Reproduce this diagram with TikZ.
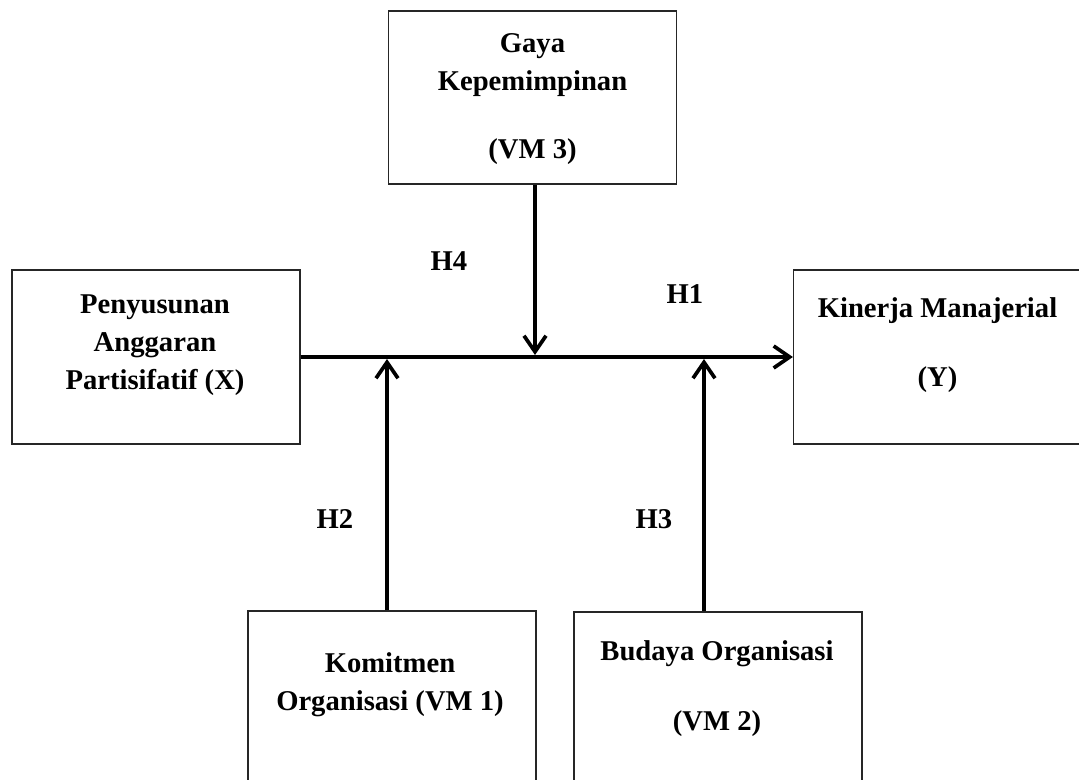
\documentclass[tikz,border=0pt]{standalone}
\usepackage{fontspec}
\setmainfont{Liberation Serif}
\usetikzlibrary{arrows.meta}

\tikzset{
	box/.style={shape=rectangle, draw=black!85, line width=0.7pt, minimum width=5.76cm, minimum height=3.48cm, inner sep=0pt},
	txt/.style={align=center, font=\fontsize{16.3}{21.6}\selectfont\bfseries},
	arr/.style={-{Straight Barb[length=0.32cm,width=0.44cm]}, line width=2.1pt},
}

\begin{document}
\begin{tikzpicture}[x=0.02cm, y=-0.02cm]
	\useasboundingbox (0,0) rectangle (1079,780);
	
	\node[box, minimum height=3.46cm] (gaya) at (532.5, 97.5) {};
	\node[box] (x)   at (156, 357)   {};
	\node[box] (y)   at (937.5, 357) {};
	\node[box, minimum height=3.5cm] (kom) at (392, 698.5) {};
	\node[box, minimum height=3.5cm] (bud) at (718, 699.5) {};
	
	\node[txt] (gayat) at (532.5, 99) {Gaya\\Kepemimpinan\\[0.6cm](VM 3)};
	\node[txt] (xt)    at (155, 345)  {Penyusunan\\Anggaran\\Partisifatif (X)};
	\node[txt] (yt)    at (937.5, 345) {Kinerja Manajerial\\[0.62cm](Y)};
	\node[txt] (komt)  at (390, 685)  {Komitmen\\Organisasi (VM 1)};
	\node[txt] (budt)  at (717, 689)  {Budaya Organisasi\\[0.64cm](VM 2)};
	
	\node[txt] (h4) at (449, 261) {H4};
	\node[txt] (h1) at (685, 294) {H1};
	\node[txt] (h2) at (335, 519) {H2};
	\node[txt] (h3) at (654, 519) {H3};
	
	\coordinate (m1) at (387, 359);
	\coordinate (m2) at (704, 359);
	\coordinate (m3) at (535, 355);
	
	\draw[arr] (x.east) -- (y.west);
	\draw[arr] (m3 |- gaya.south) -- (m3);
	\draw[arr] (m1 |- kom.north) -- (m1);
	\draw[arr] (m2 |- bud.north) -- (m2);
	
\end{tikzpicture}
\end{document}
